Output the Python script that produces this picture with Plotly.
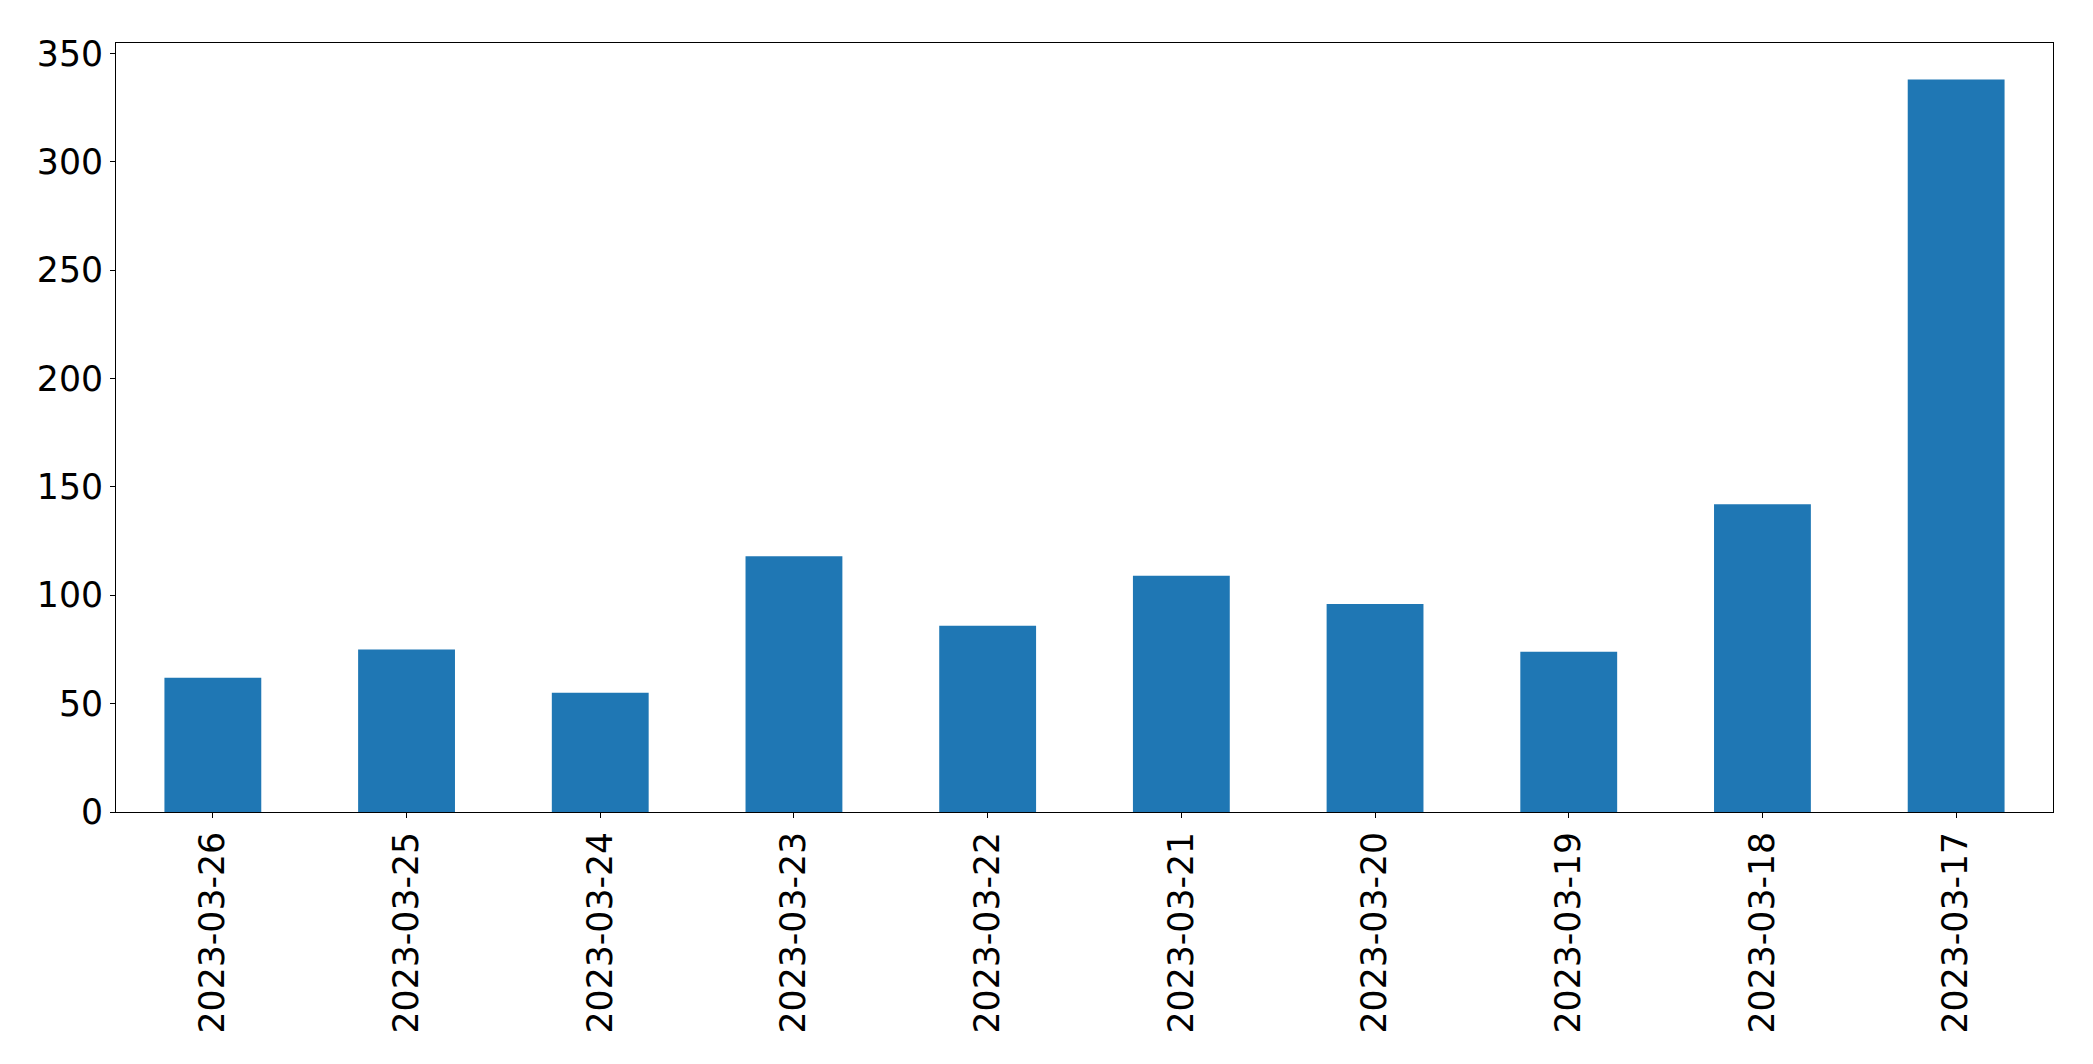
import plotly.graph_objects as go

dates = ["2023-03-26", "2023-03-25", "2023-03-24", "2023-03-23", "2023-03-22",
         "2023-03-21", "2023-03-20", "2023-03-19", "2023-03-18", "2023-03-17"]
counts = [62, 75, 55, 118, 86, 109, 96, 74, 142, 338]
y_ticks = [0, 50, 100, 150, 200, 250, 300, 350]

fig = go.Figure(go.Bar(
    x=dates, y=counts,
    marker=dict(color="#1f77b4", line=dict(width=0)),
    width=0.5,
))

font = dict(family="DejaVu Sans", size=34.7, color="black")

fig.update_layout(
    width=2093, height=1064,
    margin=dict(l=108, r=48, t=35, b=260, autoexpand=False),
    paper_bgcolor="white", plot_bgcolor="white",
    showlegend=False,
    font=font,
)
fig.update_xaxes(
    type="category", range=[-0.5, 9.5], automargin=False,
    tickangle=-90, tickfont=font,
    showline=True, mirror=True, linecolor="black", linewidth=1,
    ticks="outside", ticklen=5, tickcolor="black", tickwidth=1,
    showgrid=False, zeroline=False,
)
fig.update_yaxes(
    range=[0, max(counts) * 1.05], automargin=False,
    tickvals=y_ticks, ticktext=[str(v) for v in y_ticks], tickfont=font,
    showline=True, mirror=True, linecolor="black", linewidth=1,
    ticks="outside", ticklen=5, tickcolor="black", tickwidth=1,
    showgrid=False, zeroline=False,
)

fig.write_html("out.html")
